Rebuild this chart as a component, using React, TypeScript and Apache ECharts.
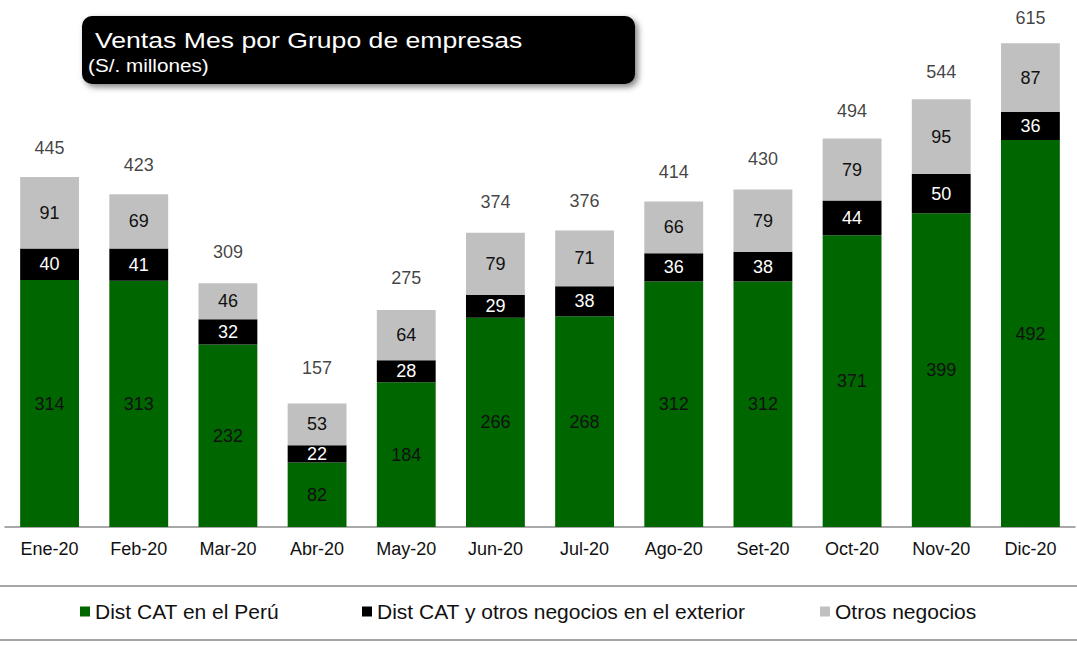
import React, { useEffect, useRef } from "react";
import * as echarts from "echarts";

const categories = ["Ene-20", "Feb-20", "Mar-20", "Abr-20", "May-20", "Jun-20", "Jul-20", "Ago-20", "Set-20", "Oct-20", "Nov-20", "Dic-20"];
const peruValues = [314, 313, 232, 82, 184, 266, 268, 312, 312, 371, 399, 492];
const exteriorValues = [40, 41, 32, 22, 28, 29, 38, 36, 38, 44, 50, 36];
const otrosValues = [91, 69, 46, 53, 64, 79, 71, 66, 79, 79, 95, 87];
const totalValues = [445, 423, 309, 157, 275, 374, 376, 414, 430, 494, 544, 615];
const seriesNames = ["Dist CAT en el Perú", "Dist CAT y otros negocios en el exterior", "Otros negocios"];

const FONT = "'Liberation Sans', Arial, sans-serif";

export default function App() {
  const ref = useRef<HTMLDivElement>(null);
  useEffect(() => {
    if (!ref.current) return;
    const chart = echarts.init(ref.current, null, { renderer: "svg" });
    const labelBase = { show: true, position: "inside", fontSize: 18, fontFamily: FONT, textBorderWidth: 0, fontWeight: "normal" };
    const legendBase = {
      top: 601,
      padding: 0,
      icon: "rect",
      itemWidth: 10,
      itemHeight: 10,
      itemGap: 5,
      textStyle: { fontSize: 21, color: "#111", fontFamily: FONT },
    };
    chart.setOption({
      animation: false,
      textStyle: { fontFamily: FONT },
      grid: { left: 5, right: 2, top: 15.8, bottom: 118 },
      xAxis: {
        type: "category",
        data: categories,
        axisTick: { show: false },
        axisLine: { lineStyle: { color: "#8c8c8c", width: 1.5 } },
        axisLabel: { fontSize: 18, color: "#111", margin: 13, fontFamily: FONT },
      },
      yAxis: [
        { type: "value", min: 0, max: 650, show: false },
        { type: "value", min: -51, max: 618, show: false },
      ],
      legend: [
        { ...legendBase, data: [seriesNames[0]], left: 80 },
        { ...legendBase, data: [seriesNames[1]], left: 362 },
        { ...legendBase, data: [seriesNames[2]], left: 820 },
      ],
      graphic: [
        {
          type: "rect",
          shape: { x: 82, y: 16, width: 553, height: 68, r: 10 },
          style: { fill: "#000", shadowBlur: 6, shadowOffsetX: 3, shadowOffsetY: 3, shadowColor: "rgba(0,0,0,0.5)" },
        },
        {
          type: "text",
          x: 95,
          y: 40,
          scaleX: 1.21,
          style: { text: "Ventas Mes por Grupo de empresas", fill: "#fff", fontSize: 22, fontFamily: FONT, verticalAlign: "middle" },
        },
        {
          type: "text",
          x: 88,
          y: 66,
          scaleX: 1.15,
          style: { text: "(S/. millones)", fill: "#fff", fontSize: 18, fontFamily: FONT, verticalAlign: "middle" },
        },
        { type: "line", shape: { x1: 0, y1: 586, x2: 1077, y2: 586 }, style: { stroke: "#a6a6a6", lineWidth: 2 } },
        { type: "line", shape: { x1: 0, y1: 640, x2: 1077, y2: 640 }, style: { stroke: "#a6a6a6", lineWidth: 2 } },
      ],
      series: [
        {
          name: seriesNames[0],
          type: "bar",
          stack: "total",
          barWidth: "66%",
          data: peruValues,
          itemStyle: { color: "#006600" },
          label: { ...labelBase, color: "#111" },
        },
        {
          name: seriesNames[1],
          type: "bar",
          stack: "total",
          data: exteriorValues,
          itemStyle: { color: "#000000" },
          label: { ...labelBase, color: "#fff" },
        },
        {
          name: seriesNames[2],
          type: "bar",
          stack: "total",
          data: otrosValues,
          itemStyle: { color: "#c0c0c0" },
          label: { ...labelBase, color: "#111" },
        },
        {
          name: "Total",
          type: "scatter",
          yAxisIndex: 1,
          data: totalValues,
          symbolSize: 0,
          silent: true,
          itemStyle: { color: "#000" },
          label: { ...labelBase, formatter: "{c}", color: "#111" },
        },
      ],
    });
    return () => chart.dispose();
  }, []);
  return <div ref={ref} style={{ position: "absolute", left: 0, top: 0, width: 1077, height: 645 }} />;
}
